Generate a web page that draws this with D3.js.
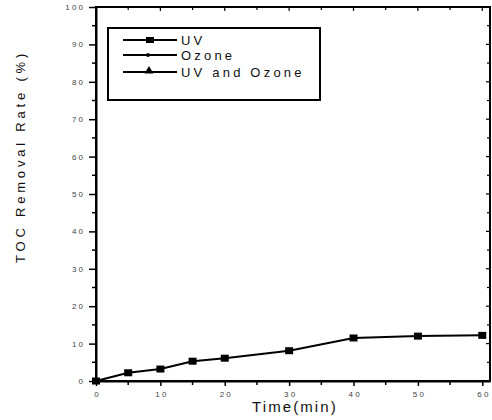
<!DOCTYPE html>
<html>
<head>
<meta charset="utf-8">
<script src="https://cdn.jsdelivr.net/npm/d3@7"></script>
<style>
  body { margin: 0; background: #fff; }
  text { font-family: Arial, "Liberation Sans", sans-serif; fill: #111; }
</style>
</head>
<body>
<div id="chart"></div>
<script>
const timeMin = [0, 5, 10, 15, 20, 30, 40, 50, 60];
const uvRemoval = [0, 2.2, 3.2, 5.3, 6.1, 8.1, 11.5, 12.0, 12.2];
// only UV is plotted in the source, the other two appear in the legend
const ozoneRemoval = [];
const uvOzoneRemoval = [];
const seriesNames = ["UV", "Ozone", "UV and Ozone"];
const xTicks = [0, 10, 20, 30, 40, 50, 60];
const yTicks = [0, 10, 20, 30, 40, 50, 60, 70, 80, 90, 100];

const W = 492, H = 420;
const plotL = 96, plotR = 490, plotT = 7, plotB = 381;

const svg = d3.select("#chart")
  .append("svg")
  .attr("width", W)
  .attr("height", H);

const x = d3.scaleLinear().domain([0, 61.2]).range([plotL, plotR]);
const y = d3.scaleLinear().domain([0, 100]).range([plotB, plotT]);

const spaced = d => String(d).split("").join(" ");

// frame
svg.append("rect")
  .attr("x", plotL).attr("y", plotT)
  .attr("width", plotR - plotL).attr("height", plotB - plotT)
  .attr("fill", "none").attr("stroke", "#000").attr("stroke-width", 2);

const minorX = d3.range(5, 61, 10);
const minorY = d3.range(5, 100, 10);

// bottom axis (outward ticks)
const bx = svg.append("g")
  .attr("transform", `translate(0,${plotB})`)
  .call(d3.axisBottom(x).tickValues(xTicks).tickSize(5).tickSizeOuter(0).tickPadding(5).tickFormat(spaced));
bx.select(".domain").attr("stroke-width", 2);
bx.selectAll(".tick line").attr("stroke-width", 1.5);
bx.selectAll("text").style("font-size", "8px").style("fill", "#444");
svg.append("g").selectAll("line").data(minorX).join("line")
  .attr("x1", d => x(d)).attr("x2", d => x(d))
  .attr("y1", plotB).attr("y2", plotB + 4)
  .attr("stroke", "#000").attr("stroke-width", 1.5);

// left axis (outward ticks)
const ly = svg.append("g")
  .attr("transform", `translate(${plotL},0)`)
  .call(d3.axisLeft(y).tickValues(yTicks).tickSize(7).tickSizeOuter(0).tickPadding(6).tickFormat(spaced));
ly.select(".domain").attr("stroke-width", 2);
ly.selectAll(".tick line").attr("stroke-width", 1.5);
ly.selectAll("text").style("font-size", "8px").style("fill", "#444");
svg.append("g").selectAll("line").data(minorY).join("line")
  .attr("x1", plotL - 4).attr("x2", plotL)
  .attr("y1", d => y(d)).attr("y2", d => y(d))
  .attr("stroke", "#000").attr("stroke-width", 1.5);

// top and right axes (inward ticks, no labels)
svg.append("g").selectAll("line").data(xTicks.concat(minorX)).join("line")
  .attr("x1", d => x(d)).attr("x2", d => x(d))
  .attr("y1", plotT).attr("y2", d => plotT + (d % 10 === 0 ? 4 : 3))
  .attr("stroke", "#000").attr("stroke-width", 1.2);
svg.append("g").selectAll("line").data(yTicks.concat(minorY)).join("line")
  .attr("x1", plotR).attr("x2", d => plotR - (d % 10 === 0 ? 4 : 3))
  .attr("y1", d => y(d)).attr("y2", d => y(d))
  .attr("stroke", "#000").attr("stroke-width", 1.2);

// axis titles
svg.append("text")
  .attr("x", 252)
  .attr("y", 412)
  .style("font-size", "15px")
  .style("letter-spacing", "2.1px")
  .text("Time(min)");

svg.append("text")
  .attr("transform", "rotate(-90)")
  .attr("x", -263)
  .attr("y", 25)
  .style("font-size", "13px")
  .style("letter-spacing", "3.8px")
  .text("TOC Removal Rate (%)");

// UV series
const uvData = timeMin.map((t, i) => ({ t, v: uvRemoval[i] }));
const line = d3.line().x(d => x(d.t)).y(d => y(d.v));

svg.append("path")
  .datum(uvData)
  .attr("fill", "none")
  .attr("stroke", "#000")
  .attr("stroke-width", 2)
  .attr("d", line);

svg.selectAll(".uv-pt")
  .data(uvData)
  .join("rect")
  .attr("x", d => x(d.t) - 4)
  .attr("y", d => y(d.v) - 3.5)
  .attr("width", 8)
  .attr("height", 7)
  .attr("fill", "#000");

// legend
const legend = svg.append("g");
legend.append("rect")
  .attr("x", 108).attr("y", 28)
  .attr("width", 212).attr("height", 72)
  .attr("fill", "#fff").attr("stroke", "#000").attr("stroke-width", 2);

const rowY = [40, 55, 72];
seriesNames.forEach((name, i) => {
  legend.append("line")
    .attr("x1", 123).attr("x2", 177)
    .attr("y1", rowY[i]).attr("y2", rowY[i])
    .attr("stroke", "#000").attr("stroke-width", 2);
  if (i === 0) {
    legend.append("rect")
      .attr("x", 146).attr("y", rowY[i] - 3)
      .attr("width", 8).attr("height", 6).attr("fill", "#000");
  } else if (i === 1) {
    legend.append("circle")
      .attr("cx", 148).attr("cy", rowY[i]).attr("r", 2).attr("fill", "#000");
  } else {
    legend.append("path")
      .attr("d", d3.symbol(d3.symbolTriangle, 34)())
      .attr("transform", `translate(149,${rowY[i] - 1})`)
      .attr("fill", "#000");
  }
  legend.append("text")
    .attr("x", 181)
    .attr("y", rowY[i] + 5)
    .style("font-size", "13px")
    .style("letter-spacing", "3.2px")
    .text(name);
});
</script>
</body>
</html>
